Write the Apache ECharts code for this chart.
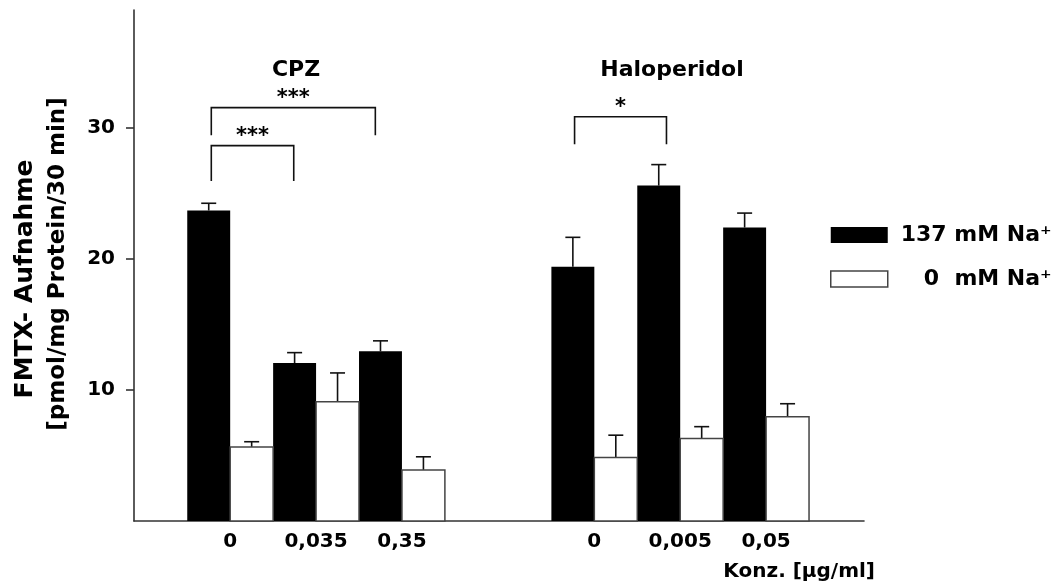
<!DOCTYPE html>
<html>
<head>
<meta charset="utf-8">
<title>FMTX-Aufnahme</title>
<script src="https://cdn.jsdelivr.net/npm/echarts@6/dist/echarts.min.js"></script>
<style>
  html, body { margin: 0; padding: 0; background: #fff; }
  #chart { width: 1056px; height: 581px; }
</style>
</head>
<body>
<div id="chart"></div>
<script>
// Concentration labels, one per bar pair (first three CPZ, last three Haloperidol)
const groups = ['CPZ', 'Haloperidol'];
const concentrations = ['0', '0,035', '0,35', '0', '0,005', '0,05'];

// FMTX uptake [pmol/mg protein/30 min], mean and error
const na137Mean = [23.7, 12.05, 12.95, 19.4, 25.6, 22.4];
const na137Err  = [0.55, 0.8, 0.8, 2.25, 1.6, 1.1];
const na0Mean   = [5.65, 9.1, 3.9, 4.85, 6.3, 7.95];
const na0Err    = [0.4, 2.2, 1.0, 1.7, 0.9, 1.0];

const yTicks = [10, 20, 30];

// Significance brackets: left x, right x, bracket height, leg end, marker
const bracketLeft   = [0.9, 0.9, 5.13];
const bracketRight  = [2.81, 1.86, 6.2];
const bracketTop    = [31.55, 28.65, 30.85];
const bracketBottom = [29.45, 25.95, 28.75];
const bracketStars  = ['***', '***', '*'];

const seriesNames = ['137 mM Na\u207A', '0  mM Na\u207A'];

// layout on the x value axis (one unit = one bar pair)
const GROUP_START = [0.62, 4.86];
const BAR_W = 0.5;
function slotCenter(i) {
  const g = i < 3 ? 0 : 1;
  return GROUP_START[g] + 0.5 + (i % 3);
}

const FONT = '"DejaVu Sans", "Liberation Sans", Arial, sans-serif';
const INK = '#111';

function barRenderer(side, fill, stroke, withLabel) {
  return function (params, api) {
    const slot = api.value(0), mean = api.value(1), err = api.value(2);
    const c = slotCenter(slot);
    const xa = side < 0 ? c - BAR_W : c;
    const p0 = api.coord([xa, 0]);
    const p1 = api.coord([xa + BAR_W, mean]);
    const pe = api.coord([xa + BAR_W / 2, mean + err]);
    const children = [
      { type: 'line', shape: { x1: pe[0], y1: p1[1], x2: pe[0], y2: pe[1] },
        style: { stroke: INK, lineWidth: 1.6 } },
      { type: 'line', shape: { x1: pe[0] - 7.5, y1: pe[1], x2: pe[0] + 7.5, y2: pe[1] },
        style: { stroke: INK, lineWidth: 1.6 } },
      { type: 'rect',
        shape: { x: p0[0], y: p1[1], width: p1[0] - p0[0], height: p0[1] - p1[1] },
        style: { fill: fill, stroke: stroke, lineWidth: stroke ? 1.5 : 0 } }
    ];
    if (withLabel) {
      const pc = api.coord([c, 0]);
      children.push({ type: 'text', x: pc[0], y: pc[1] + 11,
        style: { text: concentrations[slot], font: 'bold 20px ' + FONT, fill: '#000',
                 textAlign: 'center', textVerticalAlign: 'top' } });
    }
    return { type: 'group', children: children };
  };
}

function bracketRenderer(params, api) {
  const i = params.dataIndex;
  const a = api.coord([bracketLeft[i], bracketBottom[i]]);
  const b = api.coord([bracketLeft[i], bracketTop[i]]);
  const c = api.coord([bracketRight[i], bracketTop[i]]);
  const d = api.coord([bracketRight[i], bracketBottom[i]]);
  return { type: 'group', children: [
    { type: 'polyline', shape: { points: [a, b, c, d] },
      style: { stroke: INK, lineWidth: 1.6, fill: 'none' } },
    { type: 'text', x: (b[0] + c[0]) / 2, y: b[1] - 9,
      style: { text: bracketStars[i], font: 'bold 21px ' + FONT, fill: '#000',
               textAlign: 'center', textVerticalAlign: 'middle' } }
  ]};
}

const chart = echarts.init(document.getElementById('chart'), null, { renderer: 'canvas' });

chart.setOption({
  backgroundColor: '#fff',
  animation: false,
  grid: { left: 134, top: 10, right: 192, bottom: 60, containLabel: false },
  xAxis: {
    type: 'value', min: 0, max: 8.5,
    axisLine: { show: true, lineStyle: { color: '#333', width: 1.6 } },
    axisTick: { show: false }, axisLabel: { show: false }, splitLine: { show: false }
  },
  yAxis: {
    type: 'value', min: 0, max: 39,
    axisLine: { show: true, lineStyle: { color: '#333', width: 1.6 } },
    axisTick: { show: true, length: 8, customValues: yTicks, lineStyle: { color: '#333', width: 1.6 } },
    axisLabel: { customValues: yTicks, margin: 19, color: '#000',
                 fontFamily: FONT, fontWeight: 'bold', fontSize: 20 },
    splitLine: { show: false }
  },
  legend: {
    orient: 'vertical', left: 825, top: 219,
    itemWidth: 57, itemHeight: 16, itemGap: 22,
    icon: 'rect', selectedMode: false,
    textStyle: { color: '#000', fontFamily: FONT, fontWeight: 'bold', fontSize: 22,
                 lineHeight: 16, padding: [0, 0, 0, 8] },
    data: [
      { name: seriesNames[0], itemStyle: { color: '#000', borderWidth: 0 } },
      { name: seriesNames[1], itemStyle: { color: '#fff', borderColor: '#444', borderWidth: 1.5 },
        textStyle: { padding: [0, 0, 0, 31] } }
    ]
  },
  graphic: [
    { type: 'text', x: 296, y: 70, style: { text: groups[0], font: 'bold 22px ' + FONT,
      fill: '#000', textAlign: 'center', textVerticalAlign: 'middle' } },
    { type: 'text', x: 672, y: 70, style: { text: groups[1], font: 'bold 22px ' + FONT,
      fill: '#000', textAlign: 'center', textVerticalAlign: 'middle' } },
    { type: 'text', x: 25, y: 279, rotation: Math.PI / 2,
      style: { text: 'FMTX- Aufnahme', font: 'bold 25px ' + FONT,
      fill: '#000', textAlign: 'center', textVerticalAlign: 'middle' } },
    { type: 'text', x: 58, y: 264, rotation: Math.PI / 2,
      style: { text: '[pmol/mg Protein/30 min]', font: 'bold 23px ' + FONT,
      fill: '#000', textAlign: 'center', textVerticalAlign: 'middle' } },
    { type: 'text', x: 875, y: 572, style: { text: 'Konz. [\u00B5g/ml]', font: 'bold 20px ' + FONT,
      fill: '#000', textAlign: 'right', textVerticalAlign: 'middle' } }
  ],
  series: [
    {
      name: seriesNames[0], type: 'custom', color: '#000',
      renderItem: barRenderer(-1, '#000', null, true),
      data: na137Mean.map((v, i) => [i, v, na137Err[i]]),
      encode: { x: 0, y: 1 }, z: 2
    },
    {
      name: seriesNames[1], type: 'custom', color: '#fff',
      renderItem: barRenderer(1, '#fff', '#444', false),
      data: na0Mean.map((v, i) => [i, v, na0Err[i]]),
      encode: { x: 0, y: 1 }, z: 3
    },
    {
      name: 'Signifikanz', type: 'custom',
      renderItem: bracketRenderer,
      data: bracketTop.map((v, i) => [bracketLeft[i], v]),
      encode: { x: 0, y: 1 }, z: 4
    }
  ]
});
</script>
</body>
</html>
